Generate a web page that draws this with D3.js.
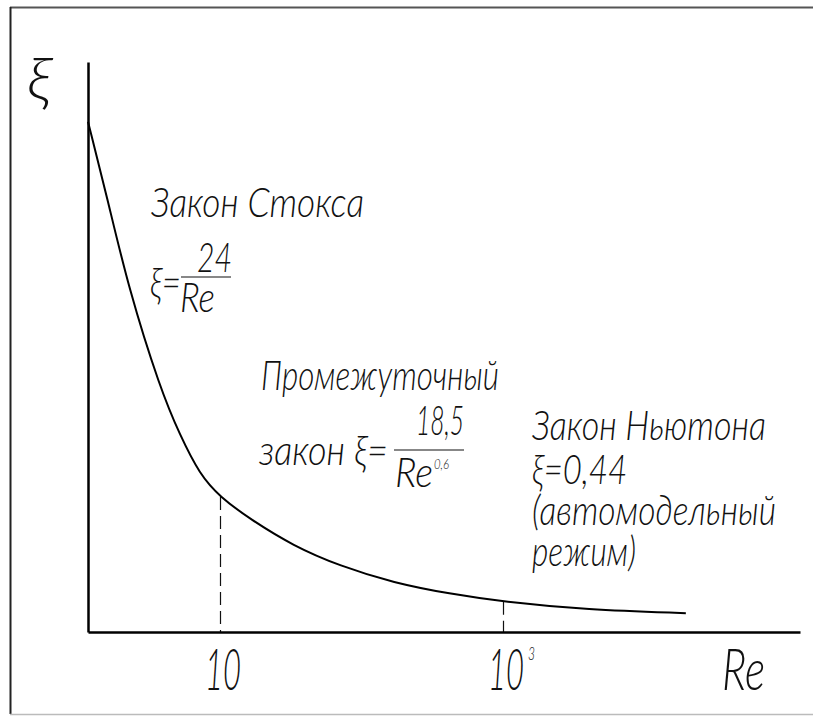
<!DOCTYPE html>
<html>
<head>
<meta charset="utf-8">
<script src="https://cdn.jsdelivr.net/npm/d3@7/dist/d3.min.js"></script>
<style>
  html, body { margin: 0; padding: 0; background: #fff; }
  svg { display: block; }
  text { font-family: "Lato", "DejaVu Sans", sans-serif; font-weight: 300; font-style: italic; fill: #111; }
</style>
</head>
<body>
<svg id="chart" width="813" height="716"></svg>
<script>
// Re (log scale) and drag coefficient ξ (relative units, schematic curve)
const reValues = [1.167, 1.6, 2.25, 3.8, 5.2, 7.2, 10, 16.3, 33, 70, 170, 420, 1000, 3900, 19600];
const xiValues = [89.5, 76.1, 60.4, 42.5, 34.6, 27.6, 23.7, 19.8, 15.1, 11.6, 8.6, 6.7, 5.3, 3.9, 3.3];
const tickValues = [10, 1000];
const tickLabels = [["10", ""], ["10", "3"]];
const markerRe = [10, 1000];
const xDomain = [1.167, 125600];
const yDomain = [0, 100];

const svg = d3.select("#chart");
const W = 813;

// outer frame
svg.append("line").attr("x1", 10).attr("x2", W).attr("y1", 7.5).attr("y2", 7.5)
  .attr("stroke", "#555").attr("stroke-width", 2);
svg.append("line").attr("x1", 10.5).attr("x2", 10.5).attr("y1", 7).attr("y2", 714)
  .attr("stroke", "#222").attr("stroke-width", 2);
svg.append("line").attr("x1", 10).attr("x2", W).attr("y1", 714.5).attr("y2", 714.5)
  .attr("stroke", "#bbb").attr("stroke-width", 1.5);

const x = d3.scaleLog().domain(xDomain).range([88, 800]);
const y = d3.scaleLinear().domain(yDomain).range([632, 62]);

const data = reValues.map((r, i) => ({ re: r, xi: xiValues[i] }));

// dashed reference lines
markerRe.forEach(r => {
  const i = reValues.indexOf(r);
  const px = Math.round(x(r)) + 0.5;
  svg.append("line")
    .attr("x1", px).attr("x2", px)
    .attr("y1", y(xiValues[i])).attr("y2", y(0))
    .attr("stroke", "#111").attr("stroke-width", 1.2)
    .attr("stroke-dasharray", "13,6");
});

// axes
const xAxis = svg.append("g").attr("transform", `translate(0,${y(0)})`)
  .call(d3.axisBottom(x).tickValues(tickValues).tickSize(0).tickSizeOuter(0).tickFormat(() => ""));
xAxis.select(".domain").attr("stroke", "#000").attr("stroke-width", 2.5);
xAxis.selectAll(".tick text").remove();

const yAxis = svg.append("g").attr("transform", `translate(${x(xDomain[0])},0)`)
  .call(d3.axisLeft(y).tickValues([]).tickSizeOuter(0));
yAxis.select(".domain").attr("stroke", "#000").attr("stroke-width", 2.5);

function label(px, py, size, str, len) {
  const t = svg.append("text").attr("x", px).attr("y", py).attr("font-size", size).text(str);
  if (len) t.attr("textLength", len).attr("lengthAdjust", "spacingAndGlyphs");
  return t;
}

// tick labels
tickValues.forEach((v, i) => {
  label(x(v) - 15, 690, 57, tickLabels[i][0], 36);
  if (tickLabels[i][1]) {
    label(x(v) + 25, 660, 17, tickLabels[i][1], 7);
  }
});

// axis titles
label(722, 690, 57, "Re", 43);
label(27, 100, 60, "ξ", 24);

// curve
const line = d3.line().x(d => x(d.re)).y(d => y(d.xi)).curve(d3.curveBasis);
svg.append("path").datum(data).attr("d", line)
  .attr("fill", "none").attr("stroke", "#000").attr("stroke-width", 2);

// annotations
const fs = 42;
// Stokes
label(151, 217, fs, "Закон Стокса", 213);
label(150, 297, fs, "ξ=", 31);
label(197, 272, fs, "24", 35);
svg.append("line").attr("x1", 181).attr("x2", 231).attr("y1", 277).attr("y2", 277).attr("stroke", "#111").attr("stroke-width", 1.2);
label(180, 312, fs, "Re", 35);

// Intermediate
label(261, 390, fs, "Промежуточный", 238);
label(259, 465, fs, "закон ξ=", 129);
label(416, 435, fs, "18,5", 48);
svg.append("line").attr("x1", 394).attr("x2", 464).attr("y1", 450).attr("y2", 450).attr("stroke", "#111").attr("stroke-width", 1.2);
label(395, 487, fs, "Re", 38);
label(434, 469, 13, "0,6", 15);

// Newton
const newton = ["Закон Ньютона", "ξ=0,44", "(автомодельный", "режим)"];
const newtonY = [440, 484, 525, 566];
const newtonW = [234, 95, 244, 104];
newton.forEach((s, i) => label(532, newtonY[i], fs, s, newtonW[i]));
</script>
</body>
</html>
